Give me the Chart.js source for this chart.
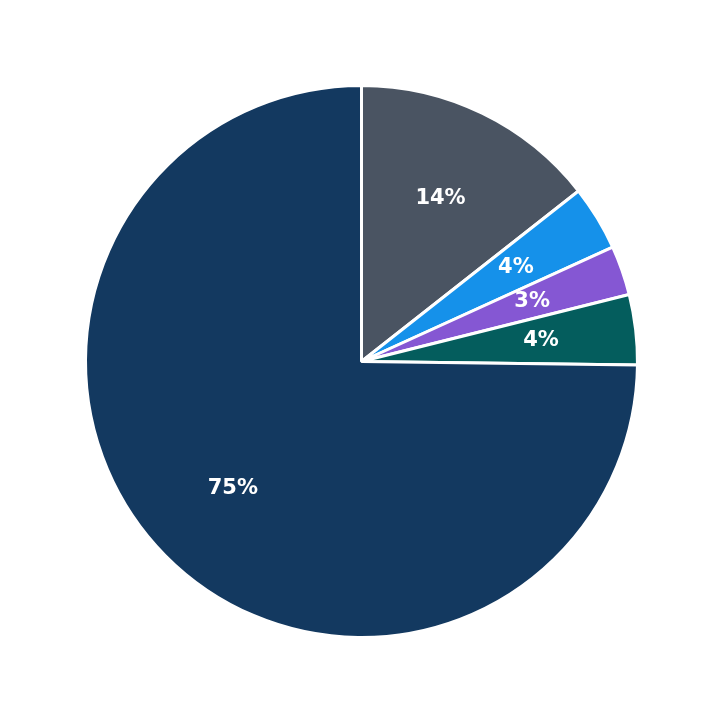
<!DOCTYPE html>
<html>
<head>
<meta charset="utf-8">
<script src="https://cdn.jsdelivr.net/npm/chart.js@4"></script>
<style>
  html, body { margin: 0; padding: 0; background: #fff; }
  #wrap { width: 723px; height: 723px; }
</style>
</head>
<body>
<div id="wrap"><canvas id="pie-chart"></canvas></div>
<script>
const categories = ['A', 'B', 'C', 'D', 'E']
const values = [14.4, 3.8, 2.9, 4.1, 74.8]
const percentLabels = ['14%', '4%', '3%', '4%', '75%']
const colors = ['#4a5462', '#1591ea', '#8557d3', '#045d5d', '#133960']

// draw the percent labels inside each slice
const sliceLabels = {
    id: 'sliceLabels',
    afterDatasetsDraw(chart) {
        const ctx = chart.ctx
        const meta = chart.getDatasetMeta(0)
        ctx.save()
        ctx.font = 'bold 21px "DejaVu Sans"'
        ctx.fillStyle = '#fff'
        ctx.textAlign = 'center'
        ctx.textBaseline = 'middle'
        meta.data.forEach((arc, i) => {
            const mid = (arc.startAngle + arc.endAngle) / 2
            const r = arc.outerRadius * 0.655
            ctx.fillText(percentLabels[i], arc.x + Math.cos(mid) * r, arc.y + Math.sin(mid) * r)
        })
        ctx.restore()
    }
}

new Chart(document.getElementById('pie-chart'), {
    type: 'pie',
    data: {
        labels: categories,
        datasets: [{
            data: values,
            backgroundColor: colors,
            borderColor: '#fff',
            borderWidth: 3
        }]
    },
    options: {
        responsive: true,
        maintainAspectRatio: false,
        animation: false,
        layout: { padding: 84 },
        plugins: {
            legend: { display: false },
            tooltip: { enabled: false }
        }
    },
    plugins: [sliceLabels]
})
</script>
</body>
</html>
